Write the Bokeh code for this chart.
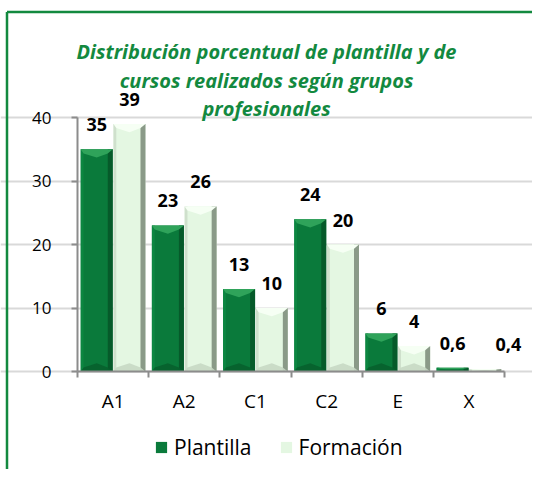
from bokeh.plotting import figure
from bokeh.models import (ColumnDataSource, Range1d, FixedTicker, Label, Legend, LegendItem)
from bokeh.core.properties import value
from bokeh.embed import file_html
from bokeh.resources import INLINE

categories = ["A1", "A2", "C1", "C2", "E", "X"]
plantilla = [35, 23, 13, 24, 6, 0.6]
formacion = [39, 26, 10, 20, 4, 0.4]
series_names = ["Plantilla", "Formación"]
title_lines = ["Distribución porcentual de plantilla y de",
               "cursos realizados según grupos",
               "profesionales"]
y_ticks = [0, 10, 20, 30, 40]

FONT = "Open Sans"
GREEN = "#13893f"
AXIS = "#8c8c8c"

W, H = 532, 469
n = len(categories)
X0, X1 = -1.082, 6.393
Y0, Y1 = -15.43, 58.43
px_per_x = W / (X1 - X0)
px_per_y = H / (Y1 - Y0)

p = figure(width=W, height=H, output_backend="svg", toolbar_location=None,
           x_range=Range1d(X0, X1), y_range=Range1d(Y0, Y1),
           min_border=0, background_fill_color="white", border_fill_color="white")
p.outline_line_color = None
p.xgrid.visible = False
p.ygrid.grid_line_color = "#d9d9d9"
p.ygrid.grid_line_width = 2
p.ygrid.bounds = (0, n)
p.ygrid.ticker = FixedTicker(ticks=y_ticks)

# outer green border (left and top edges)
bx = X0 + 6.5 / px_per_x
by = Y1 - 11.5 / px_per_y
p.segment(x0=[bx, bx], y0=[Y0 - 5, by], x1=[bx, X1 + 1], y1=[by, by],
          line_color=GREEN, line_width=2.5)

# y axis (line + ticks); tick labels drawn as text next to it
ya = p.yaxis[0]
ya.fixed_location = 0
ya.ticker = FixedTicker(ticks=y_ticks)
ya.bounds = (0, max(y_ticks))
ya.axis_line_color = AXIS
ya.axis_line_width = 2
ya.major_tick_line_color = AXIS
ya.major_tick_line_width = 2
ya.major_tick_out = 6
ya.major_tick_in = 0
ya.minor_tick_line_color = None
ya.minor_tick_out = 0
ya.major_label_text_color = None
p.text(x=[0] * len(y_ticks), y=y_ticks, text=[str(t) for t in y_ticks],
       x_offset=-26, text_align="right", text_baseline="middle",
       text_font=value(FONT), text_font_size="17px", text_color="#000000")

# x axis
xa = p.xaxis[0]
xa.fixed_location = 0
centers = [i + 0.5 for i in range(n)]
xa.ticker = FixedTicker(ticks=centers, minor_ticks=list(range(n + 1)))
xa.major_label_overrides = {c: lab for c, lab in zip(centers, categories)}
xa.bounds = (0, n)
xa.axis_line_color = AXIS
xa.axis_line_width = 2
xa.major_tick_line_color = None
xa.major_tick_out = 0
xa.major_tick_in = 0
xa.minor_tick_line_color = AXIS
xa.minor_tick_line_width = 2
xa.minor_tick_out = 6
xa.minor_tick_in = 0
xa.major_label_text_font = FONT
xa.major_label_text_font_size = "19px"
xa.major_label_text_color = "#000000"
xa.major_label_standoff = 10

OFF = 0.23
BW = 0.45
styles = [
    dict(body="#0a7a3b", top="#2fa35a", bottom="#07602e", right="#065528", left="#0c8a44", off=-OFF),
    dict(body="#e4f7e2", top="#f6fff4", bottom="#c6d8c4", right="#7a8a78", left="#c9d9c7", off=OFF),
]

renderers = []
for vals, st, name in zip([plantilla, formacion], styles, series_names):
    xs = [c + st["off"] for c in centers]
    xoff = [23 if (st["off"] > 0 and v < 1) else 0 for v in vals]
    src = ColumnDataSource(dict(x=xs, top=vals, xoff=xoff,
                                lab=[f"{v:g}".replace(".", ",") for v in vals]))
    r = p.vbar(x="x", top="top", width=BW, bottom=0, source=src,
               fill_color=st["body"], line_color=None)
    renderers.append(r)
    # side shading strips
    p.vbar(x=[x + BW / 2 - 0.035 for x in xs], top=vals, width=0.07, bottom=0,
           fill_color=st["right"], line_color=None, fill_alpha=0.85)
    p.vbar(x=[x - BW / 2 + 0.02 for x in xs], top=vals, width=0.04, bottom=0,
           fill_color=st["left"], line_color=None, fill_alpha=0.8)
    # bevel chevrons (top and bottom)
    txs, tys, bxs, bys = [], [], [], []
    for x, v in zip(xs, vals):
        d = min(1.3, v / 2.0)
        txs.append([x - BW / 2, x + BW / 2, x + BW / 2 - 0.07, x, x - BW / 2 + 0.04])
        tys.append([v, v, v - d * 0.5, v - d, v - d * 0.5])
        bxs.append([x - BW / 2, x + BW / 2, x + BW / 2 - 0.07, x, x - BW / 2 + 0.04])
        bys.append([0, 0, d * 0.5, d, d * 0.5])
    p.patches(xs=txs, ys=tys, fill_color=st["top"], line_color=None)
    p.patches(xs=bxs, ys=bys, fill_color=st["bottom"], line_color=None, fill_alpha=0.9)
    # data labels
    p.text(x="x", y="top", text="lab", source=src, x_offset="xoff", y_offset=-18,
           text_align="center", text_baseline="bottom",
           text_font=value(FONT), text_font_style="bold", text_font_size="18px",
           text_color="#000000")

# title (screen units, frame == canvas)
for i, line in enumerate(title_lines):
    p.add_layout(Label(x=266, y=418 - 28.5 * i, x_units="screen", y_units="screen",
                       text=line, text_align="center", text_baseline="middle",
                       text_font=FONT, text_font_style="bold italic", text_font_size="20px",
                       text_color=GREEN))

legend = Legend(items=[LegendItem(label=nm, renderers=[r]) for nm, r in zip(series_names, renderers)],
                orientation="horizontal", location=(154, 8),
                label_text_font=FONT, label_text_font_size="21px", label_text_color="#000000",
                glyph_width=14, glyph_height=14, label_standoff=6, spacing=27,
                border_line_color=None, background_fill_alpha=0, padding=4, margin=0)
p.add_layout(legend, "center")

open("out.html", "w").write(file_html(p, INLINE))
